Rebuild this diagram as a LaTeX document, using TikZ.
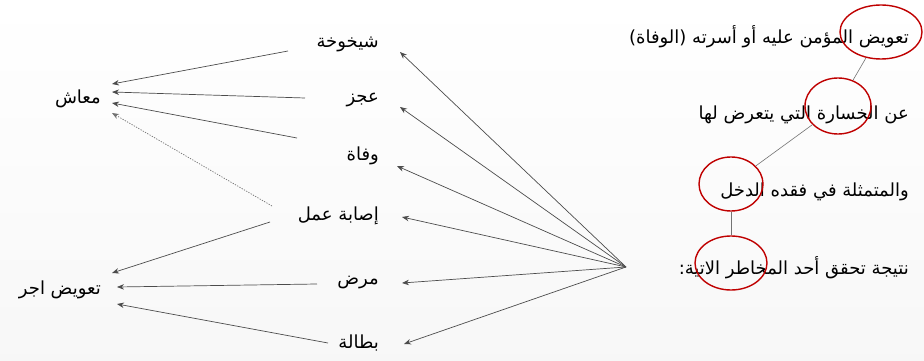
\documentclass[tikz,border=0pt]{standalone}
\usepackage{fontspec}
\newfontfamily\arabicfont[Script=Arabic]{DejaVu Sans}
\TeXXeTstate=1
\usetikzlibrary{arrows.meta,shapes.geometric}
\begin{document}
\begin{tikzpicture}[x=1pt,y=-1pt,
  lbl/.style={font=\arabicfont\fontsize{18}{21}\selectfont, inner sep=0pt, text=black},
  conn/.style={draw=black!70, line width=0.7pt, -{Stealth[length=7pt,width=5.5pt]}},
  dotconn/.style={conn, dash pattern=on 1.3pt off 1.3pt, draw=black!55},
  link/.style={draw=black!55, line width=0.6pt},
  ring/.style={ellipse, draw=red!75!black, line width=1.4pt, inner sep=0pt}
]
\fill[top color=white, bottom color=black!3] (0,0) rectangle (924,361);
\useasboundingbox (0,0) rectangle (924,361);

% right column text
\node[lbl, anchor=east] (t1) at (909,37) {\beginR تعويض المؤمن عليه أو أسرته (الوفاة)\endR};
\node[lbl, anchor=east] (t2) at (909,115) {\beginR عن الخسارة التي يتعرض لها\endR};
\node[lbl, anchor=east] (t3) at (909,192) {\beginR والمتمثلة في فقده الدخل\endR};
\node[lbl, anchor=east] (t4) at (909,268) {\beginR نتيجة تحقق أحد المخاطر الاتية:\endR};

% red rings
\node[ring, minimum width=82pt, minimum height=54pt] (e1) at (881,32) {};
\node[ring, minimum width=66pt, minimum height=56pt] (e2) at (838,106) {};
\node[ring, minimum width=64pt, minimum height=54pt] (e3) at (731,184) {};
\node[ring, minimum width=72pt, minimum height=54pt] (e4) at (731,263) {};
\draw[link] (e1) -- (e2);
\draw[link] (e2) -- (e3);
\draw[link] (e3) -- (e4);

% middle column
\node[lbl, anchor=east] (sh) at (379,44) {\beginR شيخوخة\endR};
\node[lbl, anchor=east] (aj) at (379,100) {\beginR عجز\endR};
\node[lbl, anchor=east] (wf) at (379,156) {\beginR وفاة\endR};
\node[lbl, anchor=east] (is) at (379,216) {\beginR إصابة عمل\endR};
\node[lbl, anchor=east] (md) at (379,283) {\beginR مرض\endR};
\node[lbl, anchor=east] (bt) at (379,343) {\beginR بطالة\endR};

% left column
\node[lbl, anchor=east] (ma) at (101,99) {\beginR معاش\endR};
\node[lbl, anchor=east] (ta) at (101,290) {\beginR تعويض اجر\endR};

% hub and arrow ends
\coordinate (hub) at (626,267);
\coordinate (shT) at (400,52);
\coordinate (ajT) at (400,107);
\coordinate (wfT) at (397,166);
\coordinate (isT) at (402,217);
\coordinate (mdT) at (402,283);
\coordinate (btT) at (404,344);

\coordinate (shS) at (288,51);
\coordinate (ajS) at (305,98);
\coordinate (wfS) at (297,138);
\coordinate (isS1) at (272,206);
\coordinate (isS2) at (270,222);
\coordinate (mdS) at (317,284);
\coordinate (btS) at (328,343);

\coordinate (ma1) at (112,84);
\coordinate (ma2) at (112,92);
\coordinate (ma3) at (112,103);
\coordinate (ma4) at (112,113);
\coordinate (ta1) at (112,273);
\coordinate (ta2) at (117,287);
\coordinate (ta3) at (117,304);

\draw[conn] (hub) -- (shT);
\draw[conn] (hub) -- (ajT);
\draw[conn] (hub) -- (wfT);
\draw[conn] (hub) -- (isT);
\draw[conn] (hub) -- (mdT);
\draw[conn] (hub) -- (btT);

\draw[conn] (shS) -- (ma1);
\draw[conn] (ajS) -- (ma2);
\draw[conn] (wfS) -- (ma3);
\draw[dotconn] (isS1) -- (ma4);
\draw[conn] (isS2) -- (ta1);
\draw[conn] (mdS) -- (ta2);
\draw[conn] (btS) -- (ta3);
\end{tikzpicture}
\end{document}
